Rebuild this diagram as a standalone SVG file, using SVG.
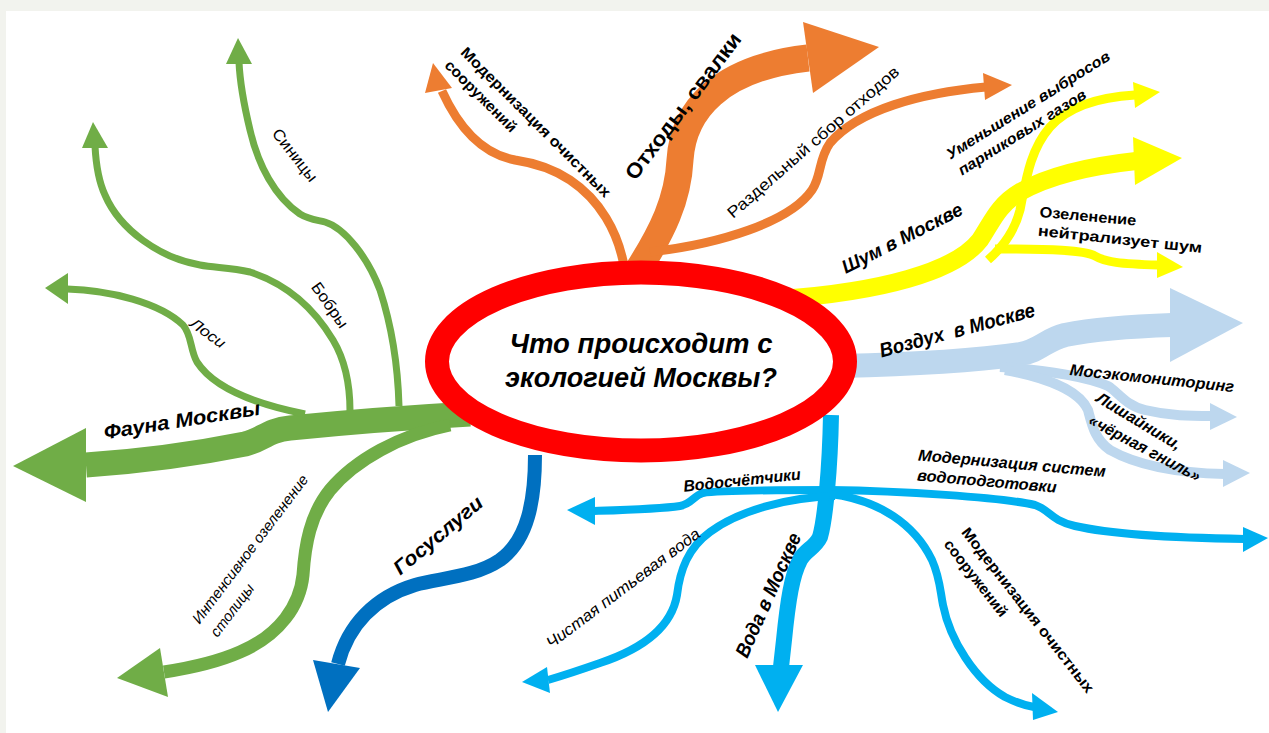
<svg xmlns="http://www.w3.org/2000/svg" width="1269" height="733" viewBox="0 0 1269 733">
<style>
.t{font-family:"Liberation Sans",Arial,sans-serif;fill:#000}
.b{font-weight:bold}.i{font-style:italic}
.s{fill:none;stroke-linecap:butt;stroke-linejoin:round}
.g{stroke:#70ad47}.gf{fill:#70ad47}
.o{stroke:#ed7d31}.of{fill:#ed7d31}
.y{stroke:#ffff00}.yf{fill:#ffff00}
.lb{stroke:#bdd7ee}.lbf{fill:#bdd7ee}
.sb{stroke:#00b0f0}.sbf{fill:#00b0f0}
.db{stroke:#0070c0}.dbf{fill:#0070c0}
</style>
<rect x="0" y="0" width="1269" height="733" fill="#f2f3ee"/>
<rect x="6" y="11" width="1263" height="722" fill="#ffffff"/>
<g id="connectors">
  <!-- green -->
  <path class="s g" stroke-width="25" d="M 470 414 C 400 418, 330 424, 290 428 C 268 430, 262 440, 245 444 C 190 455, 130 462, 86 465"/>
  <polygon class="gf" points="86,428 13,466 86,502"/>
  <path class="s g" stroke-width="7" d="M 399 406 C 398 370, 393 330, 380 290 C 368 258, 345 228, 325 222 C 318 220, 310 220, 300 214 C 275 197, 258 165, 250 130 C 244 105, 240 85, 239 62"/>
  <polygon class="gf" points="226,64 238,38 252,64"/>
  <path class="s g" stroke-width="7" d="M 350 411 C 350 385, 345 360, 333 340 C 315 310, 290 285, 250 272 C 230 267, 215 268, 200 265 C 160 258, 120 230, 105 195 C 98 180, 96 165, 95 146"/>
  <polygon class="gf" points="82,148 93,122 108,148"/>
  <path class="s g" stroke-width="7" d="M 67 289 C 110 290, 160 303, 183 325 C 192 335, 190 350, 197 362 C 215 390, 260 405, 305 414"/>
  <polygon class="gf" points="68,273 45,288 68,304"/>
  <path class="s g" stroke-width="13" d="M 450 425 C 400 435, 355 460, 330 490 C 310 515, 305 545, 303 575 C 300 605, 280 635, 240 652 C 215 663, 190 668, 164 672"/>
  <polygon class="gf" points="160,648 117,678 168,697"/>
  <!-- dark blue -->
  <path class="s db" stroke-width="14" d="M 535 455 C 535 500, 528 540, 500 560 C 475 577, 440 578, 415 585 C 375 597, 348 625, 338 664"/>
  <polygon class="dbf" points="313,660 328,712 360,668"/>
  <!-- orange -->
  <path class="s o" stroke-width="27" d="M 638 270 C 662 232, 678 200, 680 160 C 683 110, 720 68, 808 58"/>
  <polygon class="of" points="803,22 879,47 813,93"/>
  <path class="s o" stroke-width="9" d="M 624 266 C 618 232, 600 200, 570 180 C 552 168, 535 163, 515 160 C 488 155, 462 135, 442 91"/>
  <polygon class="of" points="425,93 433,63 452,88"/>
  <path class="s o" stroke-width="9" d="M 650 252 C 720 244, 790 222, 812 190 C 822 175, 818 160, 830 143 C 858 110, 920 93, 986 87"/>
  <polygon class="of" points="983,73 1012,85 985,100"/>
  <!-- yellow -->
  <path class="s y" stroke-width="18" d="M 780 299 C 880 292, 955 272, 980 240 C 992 222, 998 205, 1020 192 C 1050 175, 1090 166, 1136 161"/>
  <polygon class="yf" points="1133,137 1182,158 1135,185"/>
  <path class="s y" stroke-width="9" d="M 988 260 C 1005 245, 1015 230, 1020 210 C 1026 180, 1030 150, 1050 127 C 1070 105, 1100 97, 1135 95"/>
  <polygon class="yf" points="1133,82 1160,92 1135,108"/>
  <path class="s y" stroke-width="9" d="M 995 249 C 1050 249, 1085 250, 1095 256 C 1105 262, 1120 264, 1158 265"/>
  <polygon class="yf" points="1157,252 1183,267 1157,278"/>
  <!-- light blue -->
  <path class="s lb" stroke-width="24" d="M 840 366 C 920 364, 980 360, 1020 354 C 1040 351, 1045 340, 1065 335 C 1100 328, 1140 326, 1172 325"/>
  <polygon class="lbf" points="1170,288 1243,323 1170,362"/>
  <path class="s lb" stroke-width="10" d="M 1000 367 C 1050 370, 1090 378, 1108 386 C 1118 392, 1125 405, 1145 410 C 1170 416, 1190 416, 1212 416"/>
  <polygon class="lbf" points="1210,403 1237,417 1210,430"/>
  <path class="s lb" stroke-width="10" d="M 1005 370 C 1050 378, 1080 392, 1088 410 C 1092 425, 1095 440, 1110 450 C 1140 467, 1180 473, 1225 474"/>
  <polygon class="lbf" points="1223,460 1250,473 1223,487"/>
  <!-- sky blue -->
  <path class="s sb" stroke-width="16" d="M 831 415 C 830 470, 825 520, 820 537 C 815 548, 805 550, 800 560 C 792 575, 788 600, 784 640 L 781 667"/>
  <polygon class="sbf" points="755,665 778,712 803,665"/>
  <path class="s sb" stroke-width="8" d="M 830 490 C 900 491, 1000 497, 1035 505 C 1050 510, 1050 520, 1075 526 C 1110 534, 1180 538, 1245 539"/>
  <polygon class="sbf" points="1243,527 1268,538 1243,552"/>
  <path class="s sb" stroke-width="8" d="M 830 490 C 780 490, 720 490, 703 493 C 693 496, 692 504, 680 506 C 660 509, 625 510, 594 511"/>
  <polygon class="sbf" points="595,497 567,510 595,525"/>
  <path class="s sb" stroke-width="8" d="M 835 496 C 790 497, 740 510, 710 532 C 688 548, 680 570, 677 595 C 672 625, 645 648, 600 663 C 580 670, 565 675, 548 680"/>
  <polygon class="sbf" points="547,667 522,682 550,693"/>
  <path class="s sb" stroke-width="8" d="M 830 494 C 880 500, 915 525, 932 560 C 940 578, 940 590, 943 605 C 950 640, 975 680, 1005 697 C 1015 702, 1022 705, 1034 707"/>
  <polygon class="sbf" points="1032,693 1058,712 1033,720"/>
</g>
<g id="center">
  <ellipse cx="641" cy="361.5" rx="204" ry="89" fill="#ffffff" stroke="#ff0000" stroke-width="24"/>
  <text class="t b i" x="641" y="353" font-size="27" text-anchor="middle" textLength="263" lengthAdjust="spacingAndGlyphs">Что происходит с</text>
  <text class="t b i" x="641" y="387" font-size="27" text-anchor="middle" textLength="272" lengthAdjust="spacingAndGlyphs">экологией Москвы?</text>
</g>
<g id="fauna">
  <text class="t b i" font-size="20" text-anchor="middle" dy=".35em" transform="translate(182,420) rotate(-9)" textLength="158" lengthAdjust="spacingAndGlyphs">Фауна Москвы</text>
  <text class="t" font-size="16" text-anchor="middle" dy=".35em" transform="translate(295,155) rotate(52)" textLength="63" lengthAdjust="spacingAndGlyphs">Синицы</text>
  <text class="t" font-size="16" text-anchor="middle" dy=".35em" transform="translate(330,305) rotate(55)" textLength="52" lengthAdjust="spacingAndGlyphs">Бобры</text>
  <text class="t i" font-size="15" text-anchor="middle" dy=".35em" transform="translate(208,333) rotate(36)" textLength="40" lengthAdjust="spacingAndGlyphs">Лоси</text>
  <text class="t i" font-size="15" text-anchor="middle" dy=".35em" transform="translate(250,549) rotate(-53)" textLength="182" lengthAdjust="spacingAndGlyphs">Интенсивное озеленение</text>
  <text class="t i" font-size="15" text-anchor="middle" dy=".35em" transform="translate(232,610) rotate(-53)" textLength="62" lengthAdjust="spacingAndGlyphs">столицы</text>
</g>
<g id="gosuslugi">
  <text class="t b i" font-size="20" text-anchor="middle" dy=".35em" transform="translate(438,535) rotate(-40)" textLength="110" lengthAdjust="spacingAndGlyphs">Госуслуги</text>
</g>
<g id="othody">
  <text class="t b" font-size="21" text-anchor="middle" dy=".35em" transform="translate(683,106) rotate(-53)" textLength="178" lengthAdjust="spacingAndGlyphs">Отходы, свалки</text>
  <text class="t b" font-size="15" text-anchor="middle" dy=".35em" transform="translate(536,122) rotate(45)" textLength="205" lengthAdjust="spacingAndGlyphs">Модернизация очистных</text>
  <text class="t b" font-size="15" text-anchor="middle" dy=".35em" transform="translate(481,96) rotate(45)" textLength="95" lengthAdjust="spacingAndGlyphs">сооружений</text>
  <text class="t" font-size="16" text-anchor="middle" dy=".35em" transform="translate(813,142) rotate(-41)" textLength="222" lengthAdjust="spacingAndGlyphs">Раздельный сбор отходов</text>
</g>
<g id="shum">
  <text class="t b i" font-size="19" text-anchor="middle" dy=".35em" transform="translate(902,238) rotate(-27)" textLength="133" lengthAdjust="spacingAndGlyphs">Шум в Москве</text>
  <text class="t b i" font-size="15" text-anchor="middle" dy=".35em" transform="translate(1028,105) rotate(-32)" textLength="190" lengthAdjust="spacingAndGlyphs">Уменьшение выбросов</text>
  <text class="t b i" font-size="15" text-anchor="middle" dy=".35em" transform="translate(1022,132) rotate(-32)" textLength="148" lengthAdjust="spacingAndGlyphs">парниковых газов</text>
  <text class="t b" font-size="15" text-anchor="middle" dy=".35em" transform="translate(1088,216) rotate(5)" textLength="97" lengthAdjust="spacingAndGlyphs">Озеленение</text>
  <text class="t b" font-size="15" text-anchor="middle" dy=".35em" transform="translate(1120,239) rotate(6)" textLength="165" lengthAdjust="spacingAndGlyphs">нейтрализует шум</text>
</g>
<g id="vozduh">
  <text class="t b i" font-size="20" text-anchor="middle" dy=".35em" transform="translate(957,330) rotate(-15)" textLength="160" lengthAdjust="spacingAndGlyphs" xml:space="preserve">Воздух  в Москве</text>
  <text class="t b i" font-size="16" text-anchor="middle" dy=".35em" transform="translate(1152,378) rotate(6)" textLength="165" lengthAdjust="spacingAndGlyphs">Мосэкомониторинг</text>
  <text class="t b i" font-size="16" text-anchor="middle" dy=".35em" transform="translate(1139,421) rotate(31)" textLength="96" lengthAdjust="spacingAndGlyphs">Лишайники,</text>
  <text class="t b i" font-size="16" text-anchor="middle" dy=".35em" transform="translate(1145,448) rotate(28)" textLength="124" lengthAdjust="spacingAndGlyphs">«чёрная гниль»</text>
</g>
<g id="voda">
  <text class="t b i" font-size="20" text-anchor="middle" dy=".35em" transform="translate(768,595) rotate(-66)" textLength="134" lengthAdjust="spacingAndGlyphs">Вода в Москве</text>
  <text class="t b i" font-size="16" text-anchor="middle" dy=".35em" transform="translate(742,480) rotate(-6)" textLength="118" lengthAdjust="spacingAndGlyphs">Водосчётчики</text>
  <text class="t b i" font-size="16" text-anchor="middle" dy=".35em" transform="translate(1012,463) rotate(5)" textLength="188" lengthAdjust="spacingAndGlyphs">Модернизация систем</text>
  <text class="t b i" font-size="16" text-anchor="middle" dy=".35em" transform="translate(987,481) rotate(5)" textLength="140" lengthAdjust="spacingAndGlyphs">водоподготовки</text>
  <text class="t i" font-size="16" text-anchor="middle" dy=".35em" transform="translate(623,588) rotate(-37)" textLength="188" lengthAdjust="spacingAndGlyphs">Чистая питьевая вода</text>
  <text class="t b" font-size="15" text-anchor="middle" dy=".35em" transform="translate(1028,610) rotate(52)" textLength="205" lengthAdjust="spacingAndGlyphs">Модернизация очистных</text>
  <text class="t b" font-size="15" text-anchor="middle" dy=".35em" transform="translate(976,578) rotate(52)" textLength="93" lengthAdjust="spacingAndGlyphs">сооружений</text>
</g>
</svg>
